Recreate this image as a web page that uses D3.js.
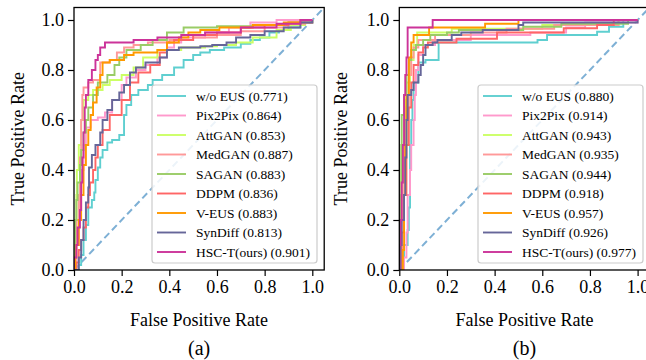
<!DOCTYPE html>
<html>
<head>
<meta charset="utf-8">
<script src="https://cdn.jsdelivr.net/npm/d3@7"></script>
<style>
  body { margin: 0; background: #fff; }
  svg text { font-family: "Liberation Serif", "Times New Roman", serif; fill: #000; }
</style>
</head>
<body>
<svg id="chart" width="646" height="360"></svg>
<script>
// series names, in plotting / legend order
const names = ["w/o EUS", "Pix2Pix", "AttGAN", "MedGAN", "SAGAN", "DDPM", "V-EUS", "SynDiff", "HSC-T(ours)"];
const colors = ["#5fcfd0", "#ff99cc", "#ccff66", "#ff9999", "#99cc66", "#ff6666", "#ff9900", "#666699", "#cc3399"];
const aucA = ["0.771", "0.864", "0.853", "0.887", "0.883", "0.836", "0.883", "0.813", "0.901"];
const aucB = ["0.880", "0.914", "0.943", "0.935", "0.944", "0.918", "0.957", "0.926", "0.977"];
const ticks = [0, 0.2, 0.4, 0.6, 0.8, 1.0];
const panelTags = ["(a)", "(b)"];

// ROC points [fpr, tpr], panel (a)
const rocA = [
  [[0,0],[0.02,0.02],[0.03,0.06],[0.04,0.12],[0.05,0.18],[0.06,0.25],[0.075,0.28],[0.085,0.31],[0.09,0.36],[0.1,0.41],[0.11,0.45],[0.12,0.48],[0.14,0.51],[0.16,0.52],[0.19,0.54],[0.21,0.55],[0.21,0.62],[0.22,0.66],[0.24,0.7],[0.27,0.72],[0.31,0.74],[0.33,0.76],[0.37,0.78],[0.42,0.81],[0.46,0.84],[0.5,0.86],[0.53,0.87],[0.57,0.88],[0.63,0.89],[0.7,0.905],[0.74,0.92],[0.78,0.93],[0.82,0.95],[0.86,0.96],[0.9,0.97],[0.95,0.99],[1,1]],
  [[0,0],[0.01,0.1],[0.02,0.2],[0.025,0.3],[0.03,0.4],[0.04,0.5],[0.05,0.57],[0.07,0.6],[0.1,0.61],[0.13,0.63],[0.16,0.68],[0.2,0.74],[0.22,0.77],[0.26,0.8],[0.3,0.82],[0.35,0.85],[0.39,0.89],[0.42,0.91],[0.45,0.93],[0.55,0.95],[0.65,0.97],[0.74,0.99],[0.85,1],[1,1]],
  [[0,0],[0.003,0.1],[0.005,0.2],[0.01,0.3],[0.012,0.4],[0.02,0.5],[0.03,0.6],[0.04,0.68],[0.06,0.7],[0.08,0.72],[0.12,0.74],[0.15,0.76],[0.2,0.78],[0.25,0.81],[0.29,0.85],[0.35,0.88],[0.45,0.89],[0.55,0.895],[0.6,0.9],[0.68,0.91],[0.75,0.93],[0.85,0.96],[0.91,0.98],[0.97,1],[1,1]],
  [[0,0],[0.005,0.1],[0.01,0.2],[0.02,0.3],[0.025,0.45],[0.03,0.6],[0.035,0.7],[0.04,0.73],[0.06,0.75],[0.08,0.76],[0.11,0.77],[0.11,0.83],[0.15,0.84],[0.18,0.87],[0.21,0.89],[0.25,0.9],[0.31,0.91],[0.4,0.92],[0.5,0.93],[0.6,0.94],[0.7,0.955],[0.8,0.97],[0.9,0.985],[0.97,1],[1,1]],
  [[0,0],[0.003,0.1],[0.005,0.2],[0.01,0.28],[0.015,0.35],[0.025,0.42],[0.03,0.48],[0.04,0.55],[0.05,0.6],[0.06,0.65],[0.08,0.7],[0.1,0.75],[0.14,0.78],[0.17,0.82],[0.19,0.85],[0.22,0.88],[0.28,0.9],[0.33,0.92],[0.39,0.95],[0.46,0.97],[0.6,0.975],[0.75,0.98],[0.9,0.99],[1,1]],
  [[0,0],[0.01,0.03],[0.02,0.08],[0.03,0.12],[0.04,0.17],[0.05,0.25],[0.06,0.3],[0.067,0.35],[0.08,0.4],[0.09,0.45],[0.1,0.5],[0.12,0.56],[0.15,0.62],[0.2,0.68],[0.235,0.75],[0.27,0.79],[0.32,0.82],[0.36,0.87],[0.39,0.91],[0.42,0.92],[0.5,0.94],[0.6,0.95],[0.7,0.97],[0.8,0.98],[0.9,0.99],[1,1]],
  [[0,0],[0.005,0.05],[0.01,0.1],[0.02,0.2],[0.03,0.3],[0.04,0.42],[0.05,0.5],[0.06,0.56],[0.07,0.62],[0.08,0.67],[0.095,0.73],[0.11,0.78],[0.12,0.83],[0.15,0.84],[0.21,0.86],[0.25,0.87],[0.35,0.88],[0.39,0.91],[0.44,0.93],[0.48,0.95],[0.53,0.96],[0.61,0.97],[0.75,0.98],[0.88,0.99],[0.95,1],[1,1]],
  [[0,0],[0.02,0.05],[0.03,0.12],[0.04,0.2],[0.05,0.27],[0.06,0.33],[0.063,0.41],[0.075,0.46],[0.09,0.5],[0.11,0.55],[0.12,0.6],[0.14,0.64],[0.16,0.68],[0.19,0.71],[0.21,0.74],[0.235,0.79],[0.26,0.81],[0.3,0.83],[0.36,0.85],[0.39,0.88],[0.44,0.89],[0.53,0.895],[0.58,0.9],[0.64,0.91],[0.68,0.93],[0.74,0.94],[0.8,0.955],[0.88,0.97],[0.95,0.99],[1,1]],
  [[0,0],[0,0.05],[0.01,0.1],[0.015,0.17],[0.025,0.24],[0.03,0.35],[0.035,0.45],[0.04,0.55],[0.045,0.65],[0.05,0.7],[0.06,0.76],[0.075,0.8],[0.09,0.84],[0.1,0.86],[0.11,0.89],[0.13,0.91],[0.25,0.92],[0.35,0.93],[0.45,0.94],[0.55,0.95],[0.7,0.97],[0.85,0.985],[0.95,1],[1,1]]
];

// ROC points [fpr, tpr], panel (b)
const rocB = [
  [[0,0],[0.01,0.02],[0.02,0.1],[0.035,0.16],[0.04,0.25],[0.045,0.35],[0.045,0.5],[0.05,0.6],[0.055,0.68],[0.06,0.75],[0.08,0.83],[0.11,0.84],[0.165,0.84],[0.165,0.91],[0.58,0.91],[0.58,0.92],[0.62,0.92],[0.62,0.94],[0.83,0.94],[0.83,0.953],[0.88,0.953],[0.88,0.973],[0.94,0.973],[0.94,1],[1,1]],
  [[0,0],[0.02,0.05],[0.03,0.15],[0.035,0.3],[0.045,0.4],[0.05,0.5],[0.06,0.6],[0.065,0.7],[0.07,0.8],[0.08,0.86],[0.1,0.9],[0.15,0.9],[0.15,0.92],[0.3,0.92],[0.3,0.94],[0.55,0.95],[0.7,0.97],[0.78,0.99],[1,1]],
  [[0,0],[0.005,0.2],[0.01,0.4],[0.015,0.5],[0.02,0.6],[0.025,0.68],[0.03,0.75],[0.045,0.84],[0.06,0.9],[0.075,0.95],[0.22,0.95],[0.22,0.965],[0.6,0.965],[0.6,0.98],[0.9,0.98],[0.92,1],[1,1]],
  [[0,0],[0.01,0.2],[0.015,0.35],[0.02,0.5],[0.03,0.65],[0.04,0.78],[0.05,0.85],[0.06,0.89],[0.08,0.92],[0.15,0.92],[0.15,0.94],[0.3,0.94],[0.3,0.95],[0.45,0.95],[0.45,0.965],[0.65,0.965],[0.65,0.98],[0.9,0.98],[0.92,1],[1,1]],
  [[0,0],[0.005,0.3],[0.008,0.5],[0.01,0.62],[0.02,0.7],[0.03,0.78],[0.04,0.84],[0.05,0.88],[0.07,0.9],[0.1,0.92],[0.13,0.94],[0.2,0.95],[0.25,0.96],[0.52,0.96],[0.52,0.973],[0.68,0.973],[0.68,0.985],[0.95,0.985],[0.96,1],[1,1]],
  [[0,0],[0.01,0.15],[0.02,0.3],[0.03,0.5],[0.04,0.65],[0.05,0.75],[0.06,0.82],[0.08,0.87],[0.1,0.89],[0.12,0.91],[0.24,0.91],[0.24,0.925],[0.41,0.925],[0.41,0.95],[0.69,0.95],[0.69,0.967],[0.83,0.967],[0.83,0.98],[0.87,0.98],[0.9,1],[1,1]],
  [[0,0],[0.015,0.08],[0.02,0.3],[0.025,0.5],[0.03,0.7],[0.04,0.85],[0.05,0.91],[0.06,0.94],[0.125,0.94],[0.125,0.97],[0.36,0.97],[0.36,0.985],[0.5,0.985],[0.5,1],[1,1]],
  [[0,0],[0.005,0.1],[0.01,0.2],[0.02,0.3],[0.025,0.45],[0.03,0.6],[0.035,0.7],[0.05,0.72],[0.06,0.75],[0.08,0.78],[0.09,0.82],[0.1,0.86],[0.11,0.9],[0.14,0.91],[0.16,0.92],[0.22,0.94],[0.26,0.95],[0.35,0.96],[0.5,0.98],[0.52,0.99],[0.96,0.99],[1,1]],
  [[0,0],[0,0.1],[0.005,0.2],[0.01,0.35],[0.015,0.5],[0.02,0.7],[0.025,0.78],[0.03,0.85],[0.035,0.97],[0.14,0.97],[0.14,1],[1,1]]
];

const svg = d3.select("#chart");
const unit = 238.3;
const panels = [
  {left: 74, roc: rocA, auc: aucA, tag: panelTags[0], ylabX: 18, legX: 152},
  {left: 399.3, roc: rocB, auc: aucB, tag: panelTags[1], ylabX: 341, legX: 478}
];

panels.forEach((p, pi) => {
  const x = d3.scaleLinear().domain([0, 1.05]).range([p.left, p.left + 1.05 * unit]);
  const y = d3.scaleLinear().domain([0, 1.05]).range([270, 7.5]);
  const g = svg.append("g");

  const clipId = "clip" + pi;
  g.append("clipPath").attr("id", clipId)
    .append("rect")
    .attr("x", x(0)).attr("y", y(1.05))
    .attr("width", x(1.05) - x(0)).attr("height", y(0) - y(1.05));

  const plot = g.append("g").attr("clip-path", "url(#" + clipId + ")");

  // chance diagonal
  plot.append("line")
    .attr("x1", x(0)).attr("y1", y(0))
    .attr("x2", x(1.05)).attr("y2", y(1.05))
    .attr("stroke", "#7eb0d5")
    .attr("stroke-width", 2)
    .attr("stroke-dasharray", "7,4");

  const line = d3.line()
    .x(d => x(d[0]))
    .y(d => y(d[1]))
    .curve(d3.curveStepAfter);

  p.roc.forEach((pts, i) => {
    plot.append("path")
      .attr("d", line(pts))
      .attr("fill", "none")
      .attr("stroke", colors[i])
      .attr("stroke-width", 1.9);
  });

  // frame
  g.append("rect")
    .attr("x", x(0)).attr("y", y(1.05))
    .attr("width", x(1.05) - x(0)).attr("height", y(0) - y(1.05))
    .attr("fill", "none").attr("stroke", "#000").attr("stroke-width", 1.3);

  const xAxis = g.append("g")
    .attr("transform", "translate(0," + y(0) + ")")
    .call(d3.axisBottom(x).tickValues(ticks).tickFormat(d3.format(".1f")).tickSize(6).tickPadding(4));
  const yAxis = g.append("g")
    .attr("transform", "translate(" + x(0) + ",0)")
    .call(d3.axisLeft(y).tickValues(ticks).tickFormat(d3.format(".1f")).tickSize(6).tickPadding(4));
  [xAxis, yAxis].forEach(a => {
    a.select(".domain").remove();
    a.selectAll(".tick line").attr("stroke", "#000").attr("stroke-width", 1.2);
    a.selectAll("text").style("font-size", "18px");
  });

  g.append("text")
    .attr("x", (x(0) + x(1.05)) / 2).attr("y", 326)
    .attr("text-anchor", "middle").style("font-size", "18px")
    .text("False Positive Rate");

  g.append("text")
    .attr("transform", "translate(" + p.ylabX + "," + (y(0) + y(1.05)) / 2 + ") rotate(-90)")
    .attr("dy", "0.35em")
    .attr("text-anchor", "middle").style("font-size", "18px")
    .text("True Positive Rate");

  g.append("text")
    .attr("x", (x(0) + x(1.05)) / 2).attr("y", 355)
    .attr("text-anchor", "middle").style("font-size", "20px")
    .text(p.tag);

  // legend
  const leg = g.append("g");
  leg.append("rect")
    .attr("x", p.legX).attr("y", 85)
    .attr("width", 165).attr("height", 178)
    .attr("rx", 3)
    .attr("fill", "#fff").attr("fill-opacity", 0.85)
    .attr("stroke", "#cccccc").attr("stroke-width", 1.2);
  names.forEach((n, i) => {
    const cy = 96 + i * 19.5;
    leg.append("line")
      .attr("x1", p.legX + 5).attr("x2", p.legX + 34)
      .attr("y1", cy).attr("y2", cy)
      .attr("stroke", colors[i]).attr("stroke-width", 1.9);
    leg.append("text")
      .attr("x", p.legX + 44).attr("y", cy)
      .attr("dy", "0.35em").style("font-size", "13.5px")
      .text(n + " (" + p.auc[i] + ")");
  });
});
</script>
</body>
</html>
